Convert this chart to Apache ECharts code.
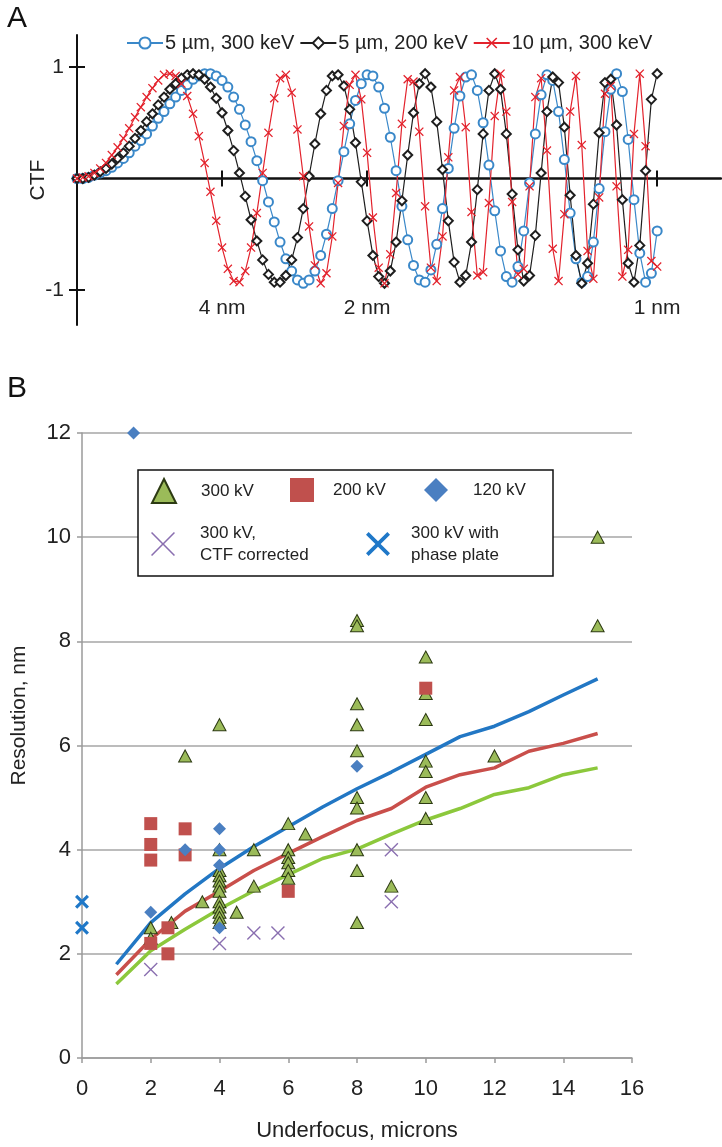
<!DOCTYPE html>
<html><head><meta charset="utf-8">
<script src="https://cdn.jsdelivr.net/npm/echarts@6/dist/echarts.min.js"></script>
<style>html,body{margin:0;padding:0;background:#fff}#c{width:722px;height:1147px}</style>
</head><body><div id="c"></div>
<script>
// ---------- Panel A: CTF curves ----------
const ctfK = [0,0.01,0.02,0.03,0.04,0.05,0.06,0.07,0.08,0.09,0.10,0.11,0.12,0.13,0.14,0.15,0.16,0.17,0.18,0.19,
0.20,0.21,0.22,0.23,0.24,0.25,0.26,0.27,0.28,0.29,0.30,0.31,0.32,0.33,0.34,0.35,0.36,0.37,0.38,0.39,
0.40,0.41,0.42,0.43,0.44,0.45,0.46,0.47,0.48,0.49,0.50,0.51,0.52,0.53,0.54,0.55,0.56,0.57,0.58,0.59,
0.60,0.61,0.62,0.63,0.64,0.65,0.66,0.67,0.68,0.69,0.70,0.71,0.72,0.73,0.74,0.75,0.76,0.77,0.78,0.79,
0.80,0.81,0.82,0.83,0.84,0.85,0.86,0.87,0.88,0.89,0.90,0.91,0.92,0.93,0.94,0.95,0.96,0.97,0.98,0.99,1.00];
const ctf5um300 = [0.00,0.00,0.01,0.03,0.05,0.07,0.10,0.14,0.18,0.23,0.29,0.34,0.40,0.47,0.54,0.60,0.67,0.73,0.79,0.84,
0.89,0.92,0.94,0.94,0.92,0.88,0.82,0.73,0.62,0.48,0.33,0.16,-0.02,-0.21,-0.39,-0.57,-0.72,-0.83,-0.91,-0.94,
-0.91,-0.83,-0.69,-0.50,-0.27,-0.02,0.24,0.49,0.70,0.85,0.93,0.92,0.82,0.63,0.37,0.07,-0.25,-0.55,-0.78,-0.91,
-0.93,-0.82,-0.59,-0.27,0.09,0.45,0.74,0.91,0.93,0.79,0.50,0.12,-0.29,-0.65,-0.88,-0.93,-0.79,-0.47,-0.04,0.40,
0.75,0.93,0.88,0.60,0.17,-0.31,-0.72,-0.93,-0.88,-0.57,-0.09,0.42,0.80,0.94,0.78,0.35,-0.19,-0.67,-0.93,-0.85,-0.47];
const ctf5um200 = [0.00,0.00,0.01,0.03,0.06,0.09,0.13,0.18,0.23,0.29,0.36,0.43,0.51,0.58,0.66,0.73,0.80,0.85,0.90,0.93,
0.94,0.93,0.89,0.82,0.72,0.59,0.43,0.25,0.05,-0.16,-0.37,-0.56,-0.73,-0.86,-0.93,-0.93,-0.87,-0.73,-0.53,-0.27,
0.02,0.31,0.58,0.79,0.92,0.93,0.83,0.62,0.32,-0.03,-0.38,-0.69,-0.88,-0.94,-0.83,-0.57,-0.20,0.21,0.59,0.85,
0.94,0.82,0.51,0.08,-0.38,-0.75,-0.93,-0.87,-0.57,-0.10,0.40,0.79,0.94,0.80,0.40,-0.14,-0.64,-0.92,-0.87,-0.51,
0.05,0.60,0.91,0.86,0.46,-0.15,-0.69,-0.94,-0.76,-0.23,0.41,0.86,0.89,0.48,-0.19,-0.76,-0.93,-0.60,0.07,0.71,0.94];
const ctf10um300 = [0.00,0.01,0.02,0.05,0.09,0.14,0.21,0.28,0.36,0.45,0.55,0.64,0.73,0.81,0.88,0.93,0.94,0.92,0.85,0.74,
0.58,0.38,0.14,-0.12,-0.38,-0.62,-0.81,-0.92,-0.93,-0.83,-0.62,-0.31,0.05,0.41,0.72,0.90,0.93,0.77,0.44,0.02,
-0.43,-0.78,-0.94,-0.85,-0.52,-0.04,0.47,0.84,0.93,0.71,0.23,-0.35,-0.80,-0.94,-0.68,-0.13,0.49,0.89,0.87,0.42,
-0.25,-0.80,-0.92,-0.52,0.19,0.79,0.91,0.46,-0.30,-0.87,-0.84,-0.22,0.56,0.94,0.60,-0.21,-0.86,-0.81,-0.07,0.73,
0.90,0.25,-0.63,-0.92,-0.32,0.60,0.92,0.30,-0.65,-0.90,-0.17,0.76,0.83,-0.07,-0.88,-0.64,0.40,0.94,0.29,-0.74,-0.79];
const ctfTickValues = [0.25, 0.5, 1];
const ctfTickLabels = ['4 nm', '2 nm', '1 nm'];
const ctfYTicks = [-1, 1];

// ---------- Panel B: resolution vs underfocus ----------
const pts300kV = [[2,2.5],[2,2.3],[2.6,2.6],[3,5.8],[3.5,3.0],
  [4,6.4],[4,4.0],[4,3.6],[4,3.5],[4,3.4],[4,3.3],[4,3.2],[4,3.0],[4,2.9],[4,2.8],[4,2.7],[4,2.6],
  [4.5,2.8],[5,4.0],[5,3.3],[6,4.5],[6,4.0],[6,3.85],[6,3.75],[6,3.6],[6,3.45],[6.5,4.3],
  [8,8.4],[8,8.3],[8,6.8],[8,6.4],[8,5.9],[8,5.0],[8,4.8],[8,4.0],[8,3.6],[8,2.6],[9,3.3],
  [10,7.7],[10,7.0],[10,6.5],[10,5.7],[10,5.5],[10,5.0],[10,4.6],[12,5.8],[15,10],[15,8.3]];
const pts200kV = [[2,4.5],[2,4.1],[2,3.8],[2,2.2],[2.5,2.5],[2.5,2.0],[3,4.4],[3,3.9],[6,3.2],[10,7.1]];
const pts120kV = [[1.5,12],[2,2.8],[3,4.0],[4,4.4],[4,4.0],[4,3.7],[4,2.5],[8,5.6]];
const ptsCtfCorrected = [[2,1.7],[4,2.2],[5,2.4],[5.7,2.4],[9,4.0],[9,3.0]];
const ptsPhasePlate = [[0,3.0],[0,2.5]];
const fitX = [1,2,3,4,5,6,7,8,9,10,11,12,13,14,15];
const fitBlue = [1.80,2.60,3.15,3.64,4.06,4.44,4.82,5.17,5.49,5.83,6.17,6.37,6.65,6.97,7.28];
const fitRed = [1.60,2.28,2.82,3.20,3.60,3.93,4.25,4.56,4.79,5.20,5.44,5.57,5.89,6.04,6.23];
const fitGreen = [1.42,2.06,2.47,2.86,3.21,3.52,3.83,4.01,4.30,4.57,4.79,5.06,5.19,5.44,5.57];
const yTicksB = {min: 0, max: 12, interval: 2};
const xTicksB = {min: 0, max: 16, interval: 2};

const FONT = '"Liberation Sans", Arial, Helvetica, sans-serif';
const X_MID = 'path://M0,1L1,0L5,4L9,0L10,1L6,5L10,9L9,10L5,6L1,10L0,9L4,5Z';
const X_THIN = 'path://M0,0.7L0.7,0L5,4.3L9.3,0L10,0.7L5.7,5L10,9.3L9.3,10L5,5.7L0.7,10L0,9.3L4.3,5Z';
const X_THIN_LEG = 'path://M0,0.45L0.45,0L5,4.55L9.55,0L10,0.45L5.45,5L10,9.55L9.55,10L5,5.45L0.45,10L0,9.55L4.55,5Z';
const X_THICK = 'path://M0,1.6L1.6,0L5,3.4L8.4,0L10,1.6L6.6,5L10,8.4L8.4,10L5,6.6L1.6,10L0,8.4L3.4,5Z';
const X_THICK_LEG = 'path://M0,1.1L1.1,0L5,3.9L8.9,0L10,1.1L6.1,5L10,8.9L8.9,10L5,6.1L1.1,10L0,8.9L3.9,5Z';

const pair = (xs, ys) => xs.map((x, i) => [x, ys[i]]);
const lblMap = {}; ctfTickValues.forEach((v, i) => lblMap[v] = ctfTickLabels[i]);

const C = {blue:'#3a88c9', black:'#1e1e1e', red:'#e3222c',
  tri:'#9bbb59', sq:'#c0504d', dia:'#4a7fc1', purple:'#8a6fb0', phase:'#1f78c8',
  lBlue:'#2277c4', lRed:'#c94f4b', lGreen:'#8cc83c', grid:'#a6a6a6', axis:'#9a9a9a'};

const chart = echarts.init(document.getElementById('c'), null, {renderer:'canvas'});

function bLegend(name, icon, left, top, pad, fmt) {
  return {show:true, left:left, top:top, orient:'horizontal', itemWidth:24, itemHeight:24,
    selectedMode:false, padding:0, data:[{name:name, icon:icon}],
    formatter: fmt || undefined,
    textStyle:{fontFamily:FONT, fontSize:17, color:'#222', lineHeight:22, padding:[0,0,0,pad]}};
}

const option = {
  animation:false,
  backgroundColor:'#fff',
  title:[
    {text:'A', left:2, top:-1, textStyle:{fontFamily:FONT, fontSize:30, fontWeight:'normal', color:'#111'}},
    {text:'B', left:2, top:369, textStyle:{fontFamily:FONT, fontSize:30, fontWeight:'normal', color:'#111'}}
  ],
  grid:[
    {left:77, top:35, width:644, height:290, containLabel:false},
    {left:82, top:433, width:550, height:630, containLabel:false}
  ],
  legend:[
    {left:126, top:33, itemWidth:36, itemHeight:14, itemGap:5, padding:0, selectedMode:false,
      data:['5 µm, 300 keV','5 µm, 200 keV','10 µm, 300 keV'],
      textStyle:{fontFamily:FONT, fontSize:20, color:'#222', padding:[0,0,0,-3]}},
    bLegend('300 kV', 'triangle', 151, 478, 20),
    bLegend('200 kV', 'rect', 290, 478, 14),
    bLegend('120 kV', 'diamond', 424, 478, 20),
    bLegend('300 kV, CTF corrected', X_THIN_LEG, 151, 522, 20, () => '300 kV,\nCTF corrected'),
    bLegend('300 kV with phase plate', X_THICK_LEG, 366, 522, 16, () => '300 kV with\nphase plate')
  ],
  graphic:[
    {type:'rect', z:3, shape:{x:138, y:470, width:415, height:106},
      style:{fill:'#fff', stroke:'#111', lineWidth:1.5}}
  ],
  xAxis:[
    {gridIndex:0, type:'value', min:0, max:1.11, position:'bottom',
      axisLine:{onZero:true, lineStyle:{color:'#111', width:2.5}},
      axisTick:{customValues:ctfTickValues, length:8, lineStyle:{color:'#111', width:2}},
      axisLabel:{customValues:ctfTickValues, formatter:v => lblMap[v] || '', margin:-27,
        fontFamily:FONT, fontSize:21, color:'#222'},
      splitLine:{show:false}},
    {gridIndex:0, type:'value', min:0, max:1.11, position:'bottom',
      axisLine:{show:false, onZero:true},
      axisTick:{inside:true, customValues:ctfTickValues, length:8, lineStyle:{color:'#111', width:2}},
      axisLabel:{show:false}, splitLine:{show:false}},
    {gridIndex:1, type:'value', min:xTicksB.min, max:xTicksB.max, interval:xTicksB.interval, position:'bottom',
      axisLine:{onZero:false, lineStyle:{color:C.axis, width:1.5}},
      axisTick:{show:true, length:5, lineStyle:{color:C.axis, width:1.5}},
      axisLabel:{margin:20, fontFamily:FONT, fontSize:22, color:'#222'},
      splitLine:{show:false},
      name:'Underfocus, microns', nameLocation:'middle', nameGap:62, nameMoveOverlap:false,
      nameTextStyle:{fontFamily:FONT, fontSize:22, color:'#222'}}
  ],
  yAxis:[
    {gridIndex:0, type:'value', min:-1.314, max:1.287, position:'left',
      axisLine:{onZero:true, lineStyle:{color:'#111', width:2}},
      axisTick:{customValues:ctfYTicks, length:8, lineStyle:{color:'#111', width:2}},
      axisLabel:{customValues:ctfYTicks, margin:13, fontFamily:FONT, fontSize:21, color:'#222'},
      splitLine:{show:false},
      name:'CTF', nameLocation:'middle', nameGap:28, nameRotate:90, nameMoveOverlap:false,
      nameTextStyle:{fontFamily:FONT, fontSize:21, color:'#222'}},
    {gridIndex:0, type:'value', min:-1.314, max:1.287, position:'left',
      axisLine:{show:false, onZero:true},
      axisTick:{inside:true, customValues:ctfYTicks, length:8, lineStyle:{color:'#111', width:2}},
      axisLabel:{show:false}, splitLine:{show:false}},
    {gridIndex:1, type:'value', min:yTicksB.min, max:yTicksB.max, interval:yTicksB.interval, position:'left',
      axisLine:{show:true, onZero:false, lineStyle:{color:C.axis, width:1.5}},
      axisTick:{show:true, length:5, lineStyle:{color:C.axis, width:1.5}},
      axisLabel:{margin:11, fontFamily:FONT, fontSize:22, color:'#222'},
      splitLine:{show:true, lineStyle:{color:C.grid, width:1.5}},
      name:'Resolution, nm', nameLocation:'middle', nameGap:52, nameRotate:90, nameMoveOverlap:false,
      nameTextStyle:{fontFamily:FONT, fontSize:21, color:'#222', padding:[0,0,0,60]}}
  ],
  series:[
    {name:'5 µm, 300 keV', type:'line', xAxisIndex:0, yAxisIndex:0, data:pair(ctfK, ctf5um300),
      symbol:'emptyCircle', symbolSize:9, showSymbol:true,
      lineStyle:{color:C.blue, width:1.2}, itemStyle:{color:C.blue, borderWidth:1.3}},
    {name:'5 µm, 200 keV', type:'line', xAxisIndex:0, yAxisIndex:0, data:pair(ctfK, ctf5um200),
      symbol:'emptyDiamond', symbolSize:9, showSymbol:true,
      lineStyle:{color:C.black, width:1.2}, itemStyle:{color:C.black, borderWidth:1.2}},
    {name:'10 µm, 300 keV', type:'line', xAxisIndex:0, yAxisIndex:0, data:pair(ctfK, ctf10um300),
      symbol:X_MID, symbolSize:9, showSymbol:true,
      lineStyle:{color:C.red, width:1.2}, itemStyle:{color:C.red}},

    {name:'fit 120 kV', type:'line', xAxisIndex:2, yAxisIndex:2, data:pair(fitX, fitBlue),
      showSymbol:false, symbol:'none', lineStyle:{color:C.lBlue, width:3.5}, z:2},
    {name:'fit 200 kV', type:'line', xAxisIndex:2, yAxisIndex:2, data:pair(fitX, fitRed),
      showSymbol:false, symbol:'none', lineStyle:{color:C.lRed, width:3.5}, z:2},
    {name:'fit 300 kV', type:'line', xAxisIndex:2, yAxisIndex:2, data:pair(fitX, fitGreen),
      showSymbol:false, symbol:'none', lineStyle:{color:C.lGreen, width:3.5}, z:2},

    {name:'300 kV', type:'scatter', xAxisIndex:2, yAxisIndex:2, data:pts300kV,
      symbol:'triangle', symbolSize:[13,12], z:4,
      itemStyle:{color:C.tri, borderColor:'#2c3a12', borderWidth:1, opacity:1}},
    {name:'200 kV', type:'scatter', xAxisIndex:2, yAxisIndex:2, data:pts200kV,
      symbol:'rect', symbolSize:13, z:4, itemStyle:{color:C.sq, opacity:1}},
    {name:'120 kV', type:'scatter', xAxisIndex:2, yAxisIndex:2, data:pts120kV,
      symbol:'diamond', symbolSize:13, z:4, itemStyle:{color:C.dia, opacity:1}},
    {name:'300 kV, CTF corrected', type:'scatter', xAxisIndex:2, yAxisIndex:2, data:ptsCtfCorrected,
      symbol:X_THIN, symbolSize:14, z:4, itemStyle:{color:C.purple, opacity:1}},
    {name:'300 kV with phase plate', type:'scatter', xAxisIndex:2, yAxisIndex:2, data:ptsPhasePlate,
      symbol:X_THICK, symbolSize:14, z:4, itemStyle:{color:C.phase, opacity:1}}
  ]
};
chart.setOption(option);
</script>
</body></html>
